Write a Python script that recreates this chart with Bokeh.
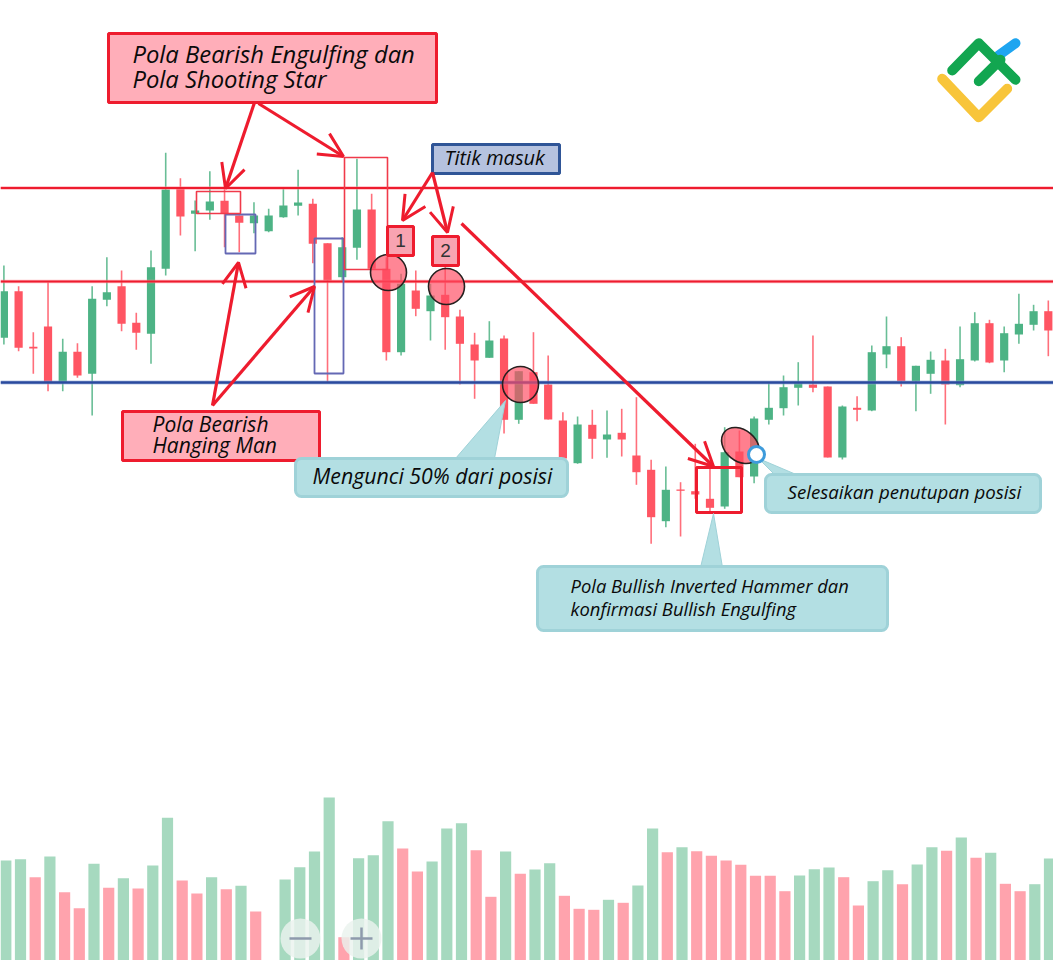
from bokeh.plotting import figure
from bokeh.models import Range1d, Arrow, OpenHead
from bokeh.core.properties import value
from bokeh.embed import file_html
from bokeh.resources import INLINE

# ---- data (vertical unit: image row, larger = lower price)
candle_dir = list("GRRRGRGGRRGGRGGRRGGGGRRGGRRGRGRRRGRGRRRGRGRRRGRRRGRGGGGRRGRGGRGGRGGRGGGR")
body_top = [290.7,290.7,346.3,326,351.3,351.3,298.3,291.7,285.7,322.3,266.7,189,188.3,210,201,200.3,215,215,215,205,202,203.3,242.7,246.7,
            209,209,268.3,283.3,290,295,294.3,316,344,340,338,370.7,371.7,384,420,424,424.3,434,432.3,455,469.3,489.3,489,490.7,498.3,451.7,451,418,
            407.3,386.7,382.7,384,386,406,407.3,351.7,345.7,345.7,365.3,359.3,360,358.7,322.7,322.7,332.7,323.3,310.7,310.7]
body_bot = [337.3,347.3,348,381.7,381.7,375,373.3,299.3,323.3,332.3,333.3,268.3,216,213.3,210,213.3,222.3,222.7,230.7,216.7,205.3,243.3,280,276.7,
            247.3,268.3,351.7,351.7,308.3,310.7,316.7,343.3,360,357.3,419.3,419.3,403.3,419,458,462.7,438.3,439,439,471.7,516.7,520.7,490.3,494,507.3,506,476.7,476,
            419.3,407.7,387.3,387.3,457,457,409.3,410,354,380.7,380.7,373.3,384,384.7,360,362,360,334,324.3,330]
wick_top = [265,285.7,331.7,281.7,338.3,342.7,285.7,256.7,270,312.3,250,152.3,177.7,200,170.7,186.7,215,201.7,208.3,188.3,169.3,198.3,242.7,236.7,
            158.3,193.3,256.7,273.3,270,283.3,256.7,309.3,332.3,320.7,335,370.7,331.7,355,411.7,416,409.3,410,408.3,396.7,459.3,466,481.7,443.3,468.3,426.7,430,416,
            382.7,375,361.7,335,386,405,395.7,345,316,336.7,365.3,351,348.3,326,311.7,319.3,326,293.3,304.3,300]
wick_bot = [344,350.7,373.3,390.7,390.7,377.3,415,305.7,330.7,349.3,363.3,275,235,250.7,219.3,246.7,251.7,232.7,231.7,217.3,215,262.7,381.7,281.7,
            259.3,268.3,360,355,315.7,340,349.3,384,398.3,357.3,433,423.3,403.3,419,461.7,463.3,458.3,457.3,456,484.3,543.3,526.7,536,498.3,511.7,508.3,476.7,482.7,
            424,415,405,391.7,457,459,420.7,410.7,367.7,386,410.7,393.3,424,386.7,361,362.7,371.7,343.3,330,355.7]
volume_dir = list("GGRGRRGRGRGGRRGRGRNGGGGRGGGRRGGGRRGRGGRRRGRGGRGRRRRRRRGGGRRGGRGGRGRGRRGG")
volume_top = [860,858.7,876.7,856,891.7,907.7,863.3,887.3,877.7,888,865,817.3,880,893,876.7,888.7,885.3,911,960,879,866.7,851,797,936.7,857.7,854.7,820.7,848,871,861,828,822.7,849.7,896.3,851,873.3,
              869,862.7,895.3,908.3,909.3,899.3,902.3,885,828,851.7,846.7,850.7,855.3,860,864.3,875.3,875.3,890.7,875,868.7,867,876.7,905,880.7,869.7,883.7,864,846.7,850.3,837,857.3,852.3,883.3,890.7,883.7,858]
resistance_levels = [187.5, 281]
support_levels = [382]

RED, GREEN = "#FF5563", "#4DB385"
WICK_RED, WICK_GREEN = "#FF6F7B", "#69BE96"
VRED, VGREEN = "#FFA3AD", "#A6D9BF"
LINE = "#EE1C2E"
TEAL, TEAL_EDGE = "#B3DFE3", "#9FD2D8"
MYRIAD = value("Open Sans")

p = figure(width=1053, height=960, x_range=Range1d(0, 1053), y_range=Range1d(960, 0),
           output_backend="svg", toolbar_location=None, min_border=0,
           background_fill_color="white", border_fill_color="white")
p.axis.visible = False
p.grid.visible = False
p.outline_line_color = None

idx = list(range(len(body_top)))
cx = [3.4 + 14.71 * i for i in idx]
vx = [5.3 + 14.7 * i for i in range(len(volume_top))]

# volume
keep = [i for i, d in enumerate(volume_dir) if d != "N"]
p.vbar(x=[vx[i] for i in keep], width=11.2, bottom=960, top=[volume_top[i] for i in keep],
       fill_color=[VGREEN if volume_dir[i] == "G" else VRED for i in keep], line_color=None)

# candles
p.segment(x0=cx, x1=cx, y0=wick_top, y1=wick_bot, line_width=1.6,
          line_color=[WICK_GREEN if d == "G" else WICK_RED for d in candle_dir])
p.vbar(x=cx, width=8.2, top=body_top, bottom=body_bot, line_color=None,
       fill_color=[GREEN if d == "G" else RED for d in candle_dir])

# level lines
for y in resistance_levels:
    p.segment(0, y, 1060, y, line_color="#FF8A96", line_width=3.6, line_alpha=0.6)
    p.segment(0, y, 1060, y, line_color=LINE, line_width=2.2)
for y in support_levels:
    p.segment(0, y, 1060, y, line_color="#8FA6D6", line_width=3.8, line_alpha=0.6)
    p.segment(0, y, 1060, y, line_color="#2A4A9E", line_width=2.4)

# pattern frames
p.quad(left=[225, 314], right=[255, 343], top=[214, 238], bottom=[253, 373],
       fill_color=None, line_color="#6468B4", line_width=1.8)
p.quad(left=[196, 344], right=[240, 387], top=[191, 157], bottom=[213, 269],
       fill_color=None, line_color="#F03A4A", line_width=1.6)
p.quad(left=[696], right=[741], top=[467], bottom=[512],
       fill_color=None, line_color=LINE, line_width=3)

# markers on the candles
p.circle(x=[388, 446, 520], y=[272, 286, 384], radius=18, fill_color="#FF4D63", fill_alpha=0.68,
         line_color="#26201F", line_width=1.6)
p.ellipse(x=[740], y=[445], width=[42], height=[31], angle=[-0.7], fill_color="#FF4D63", fill_alpha=0.72,
          line_color="#26201F", line_width=1.6)

# callout tails
p.patch([505, 455, 494], [400, 458, 458], fill_color=TEAL, line_color=TEAL_EDGE, line_width=1)
p.patch([758, 775, 798], [458, 475, 475], fill_color=TEAL, line_color=TEAL_EDGE, line_width=1)
p.patch([713, 700, 722], [513, 567, 567], fill_color=TEAL, line_color=TEAL_EDGE, line_width=1)

# arrows
arrows = [(254, 102, 225, 188), (258, 103, 343, 156), (212, 405, 238, 262), (212, 405, 314, 286),
          (432, 172, 402, 220), (432, 172, 447, 232), (461, 223, 713, 466)]
for x0, y0, x1, y1 in arrows:
    p.add_layout(Arrow(end=OpenHead(line_color=LINE, line_width=3, size=24),
                       x_start=x0, y_start=y0, x_end=x1, y_end=y1, line_color=LINE, line_width=3.2))

# square labels
p.rect(x=[400, 445], y=[240.5, 250.5], width=[26, 26], height=[29, 29], fill_color="#F8A3B1",
       line_color=LINE, line_width=3)
p.text(x=[400, 445], y=[239.5, 249.5], text=["1", "2"], text_font=value("Liberation Sans"), text_font_size="19px",
       text_color="#333333", text_align="center", text_baseline="middle")

# boxes
p.quad(left=[108, 122], right=[436, 319], top=[33, 411], bottom=[102, 460],
       fill_color="#FFAEB9", line_color=LINE, line_width=3)
p.quad(left=[432], right=[559], top=[144], bottom=[173], fill_color="#B5C2DF", line_color="#2F5597", line_width=3)
rounded = [(295, 458, 567, 496), (765, 474, 1040, 512), (537, 566, 887, 630)]
for l, t, r, b in rounded:
    p.rect(x=[(l + r) / 2], y=[(t + b) / 2], width=[r - l], height=[b - t], fill_color=TEAL,
           line_color=TEAL_EDGE, line_width=3, border_radius=6)

# texts
def label(x, y, s, size):
    p.text(x=[x], y=[y], text=[s], text_font=MYRIAD, text_font_style="italic", text_font_size=size,
           text_color="#0A0A0A", text_align="left", text_baseline="middle")

label(132, 53, "Pola Bearish Engulfing dan", "23.8px")
label(132, 78, "Pola Shooting Star", "23.8px")
label(444, 157, "Titik masuk", "20px")
label(152, 423.5, "Pola Bearish", "21px")
label(152, 444.5, "Hanging Man", "21px")
label(312, 475, "Mengunci 50% dari posisi", "21.3px")
label(787, 491, "Selesaikan penutupan posisi", "18.7px")
label(570, 584.5, "Pola Bullish Inverted Hammer dan", "18.4px")
label(570, 607.5, "konfirmasi Bullish Engulfing", "18.4px")

# closing point
p.circle(x=[756], y=[454], radius=8, fill_color="white", line_color="#3E9BDB", line_width=3)

# zoom buttons
p.circle(x=[300, 361], y=[938, 938], radius=20, fill_color="#EAF3EE", fill_alpha=0.82, line_color=None)
p.segment([289, 350, 361], [938, 938, 927], [311, 372, 361], [938, 938, 949], line_color="#8E9AAC", line_width=2.5)

# logo
p.line([998, 1015], [55, 42.7], line_color="#1EA5F0", line_width=10, line_cap="round")
p.line([941.7, 978.3, 1006.7], [78.3, 116.7, 88.3], line_color="#F8C53A", line_width=10, line_cap="round", line_join="round")
p.line([951.7, 978.3, 1015], [70, 42.7, 79.3], line_color="#12A650", line_width=10, line_cap="round", line_join="round")
p.line([978.3, 1000], [80.7, 59.3], line_color="#12A650", line_width=10, line_cap="round")

open("out.html", "w").write(file_html(p, INLINE))
